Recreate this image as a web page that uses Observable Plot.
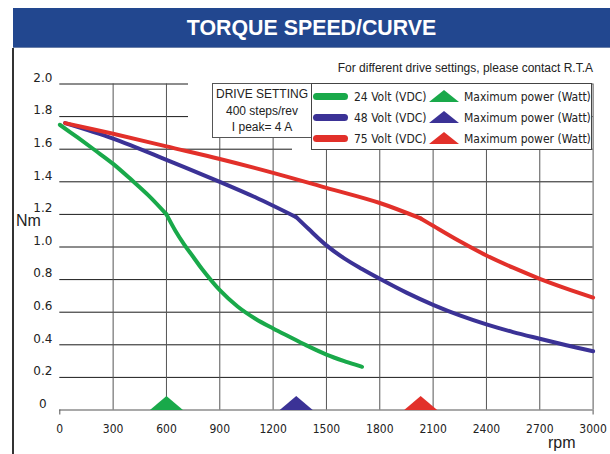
<!DOCTYPE html>
<html><head><meta charset="utf-8">
<script src="https://cdn.jsdelivr.net/npm/d3@7"></script>
<script src="https://cdn.jsdelivr.net/npm/@observablehq/plot@0.6"></script>
<style>
body{margin:0;background:#fff}
#wrap{position:relative;width:610px;height:454px;overflow:hidden;background:#fff;font-family:"Liberation Sans",Arial,sans-serif;color:#222}
#header{position:absolute;left:13px;top:8px;width:597px;height:40px;background:#22478f;color:#fff;font:bold 22px "Liberation Sans",Arial,sans-serif;text-align:center;line-height:40px;border-bottom:1px solid #6a7fa8;box-sizing:border-box}
#header span{display:inline-block;transform:scaleX(0.97)}
#chart{position:absolute;left:0;top:48px}
#leftline{position:absolute;left:12px;top:48px;width:2px;height:406px;background:#333}
#note{position:absolute;right:17px;top:60px;font-size:12px;line-height:16px;white-space:nowrap;color:#222}
.cover{position:absolute;background:#fff}
#drive{position:absolute;left:212px;top:83px;width:100px;height:55px;box-sizing:border-box;border:1px solid #555;background:#fff;text-align:center;font-size:12px;line-height:16.5px;padding-top:2px;color:#222}
#legend{position:absolute;left:311px;top:83px;width:281px;height:67px;box-sizing:border-box;border:1px solid #444;background:#fff}
.sw{position:absolute;left:1px;width:35px;height:7px;border-radius:4px}
.lt{position:absolute;font-family:"DejaVu Sans Condensed","DejaVu Sans",sans-serif;font-size:12px;line-height:16px;white-space:nowrap;color:#222}
.tri{position:absolute;left:117px;width:30px;height:12px}
#nm{position:absolute;left:16px;top:211px;font-size:16px;line-height:20px}
#rpm{position:absolute;left:548px;top:433px;font-size:16px;line-height:20px}
</style></head><body>
<div id="wrap">
  <div id="header"><span>TORQUE SPEED/CURVE</span></div>
  <div id="chart"></div>
  <div id="leftline"></div>
  <div id="note">For different drive settings, please contact R.T.A</div>
  <div class="cover" style="left:188px;top:78px;width:124px;height:60px"></div>
  <div class="cover" style="left:292px;top:138px;width:20px;height:13px"></div>
  <div id="drive"></div>
  <div id="legend"></div>
  <div id="nm">Nm</div>
  <div id="rpm">rpm</div>
</div>
<script>
// ---- data ----
const seriesNames = ["24 Volt (VDC)", "48 Volt (VDC)", "75 Volt (VDC)"];
const seriesColors = ["#19a94a", "#3b3296", "#e2302a"];
const markerLabel = "Maximum power (Watt)";
const driveLines = ["DRIVE SETTING", "400 steps/rev", "I peak= 4 A"];

const rpm24 = [0, 100, 200, 300, 400, 500, 600, 650, 700, 750, 800, 900, 1000, 1100, 1200, 1300, 1400, 1500, 1600, 1700];
const nm24  = [1.75, 1.672, 1.592, 1.51, 1.415, 1.315, 1.20, 1.10, 1.015, 0.94, 0.865, 0.735, 0.635, 0.56, 0.50, 0.445, 0.39, 0.34, 0.30, 0.265];

const rpm48 = [30, 300, 600, 900, 1100, 1330, 1400, 1500, 1600, 1700, 1800, 1950, 2100, 2250, 2400, 2550, 2700, 2850, 3000];
const nm48  = [1.76, 1.665, 1.535, 1.40, 1.305, 1.183, 1.11, 1.01, 0.93, 0.865, 0.805, 0.72, 0.645, 0.58, 0.525, 0.478, 0.437, 0.397, 0.36];

const rpm75 = [30, 300, 600, 900, 1200, 1500, 1800, 2030, 2100, 2250, 2400, 2550, 2700, 2850, 3000];
const nm75  = [1.76, 1.695, 1.617, 1.54, 1.455, 1.363, 1.27, 1.175, 1.13, 1.035, 0.948, 0.873, 0.805, 0.745, 0.69];

// speed of maximum power (knee of each curve)
const peakRpm = [600, 1330, 2030];

const xTicks = [0, 300, 600, 900, 1200, 1500, 1800, 2100, 2400, 2700, 3000];
const yTicks = [0, 0.2, 0.4, 0.6, 0.8, 1.0, 1.2, 1.4, 1.6, 1.8, 2.0];

// ---- tables ----
// each curve is split at its knee into two smooth parts sharing the knee point
const toRows = (xs, ys, knee) => xs.flatMap((r, i) => {
  const row = {rpm: r, nm: ys[i]};
  if (r < knee) return [{...row, part: 0}];
  if (r > knee) return [{...row, part: 1}];
  return [{...row, part: 0}, {...row, part: 1}];
});
const series = [toRows(rpm24, nm24, peakRpm[0]), toRows(rpm48, nm48, peakRpm[1]), toRows(rpm75, nm75, peakRpm[2])];
const peaks = peakRpm.map((r, i) => ({rpm: r, color: seriesColors[i]}));

const flatTriangle = {
  draw(ctx) { ctx.moveTo(-16.5, 0); ctx.lineTo(0, -14); ctx.lineTo(16.5, 0); ctx.closePath(); }
};

const chart = Plot.plot({
  width: 610, height: 406,
  marginLeft: 59.3, marginRight: 17.4, marginTop: 35.5, marginBottom: 44.5,
  x: {domain: [0, 3000]},
  y: {domain: [0, 2]},
  style: {background: "transparent", fontFamily: "DejaVu Sans, sans-serif", fontSize: "12px", color: "#222", overflow: "visible"},
  marks: [
    Plot.ruleY(yTicks.filter(d => d > 0), {stroke: "#1a1a1a", strokeWidth: 1}),
    Plot.ruleX(xTicks.filter(d => d > 0), {stroke: "#555", strokeWidth: 1}),
    Plot.ruleY([0], {stroke: "#555", strokeWidth: 1.2}),
    Plot.axisY(yTicks, {tickSize: 0, tickPadding: 17, textAnchor: "middle", dy: -6, label: null,
      tickFormat: d => d === 0 ? "0" : d.toFixed(1), fill: "#222"}),
    Plot.axisX(xTicks, {tickSize: 0, tickPadding: 14, label: null, tickFormat: d => String(d),
      fontFamily: "DejaVu Sans Condensed, DejaVu Sans, sans-serif", fill: "#222"}),
    Plot.axisX([0, 3000], {tickSize: 5, text: null, label: null, stroke: "#555"}),
    ...series.map((rows, i) => Plot.line(rows, {x: "rpm", y: "nm", z: "part", stroke: seriesColors[i], strokeWidth: 4, curve: "catmull-rom", strokeLinecap: "round", strokeLinejoin: "round"})),
    Plot.dot(peaks, {x: "rpm", frameAnchor: "bottom", symbol: flatTriangle, fill: "color", stroke: "none", r: 5})
  ]
});
document.getElementById("chart").appendChild(chart);

// drive setting box
document.getElementById("drive").innerHTML = driveLines.join("<br>");

// legend
const legend = document.getElementById("legend");
const rowTop = [13, 34, 55];
seriesNames.forEach((name, i) => {
  const cy = rowTop[i];
  const sw = document.createElement("div");
  sw.className = "sw"; sw.style.top = (cy - 4) + "px"; sw.style.background = seriesColors[i];
  legend.appendChild(sw);
  const t1 = document.createElement("div");
  t1.className = "lt"; t1.style.left = "42px"; t1.style.top = (cy - 8) + "px"; t1.textContent = name;
  legend.appendChild(t1);
  const tri = document.createElementNS("http://www.w3.org/2000/svg", "svg");
  tri.setAttribute("class", "tri"); tri.setAttribute("width", 30); tri.setAttribute("height", 12);
  tri.style.top = (cy - 7) + "px";
  tri.innerHTML = `<polygon points="0,12 15,0 30,12" fill="${seriesColors[i]}"/>`;
  legend.appendChild(tri);
  const t2 = document.createElement("div");
  t2.className = "lt"; t2.style.left = "152px"; t2.style.top = (cy - 8) + "px"; t2.textContent = markerLabel;
  legend.appendChild(t2);
});
</script>
</body></html>
